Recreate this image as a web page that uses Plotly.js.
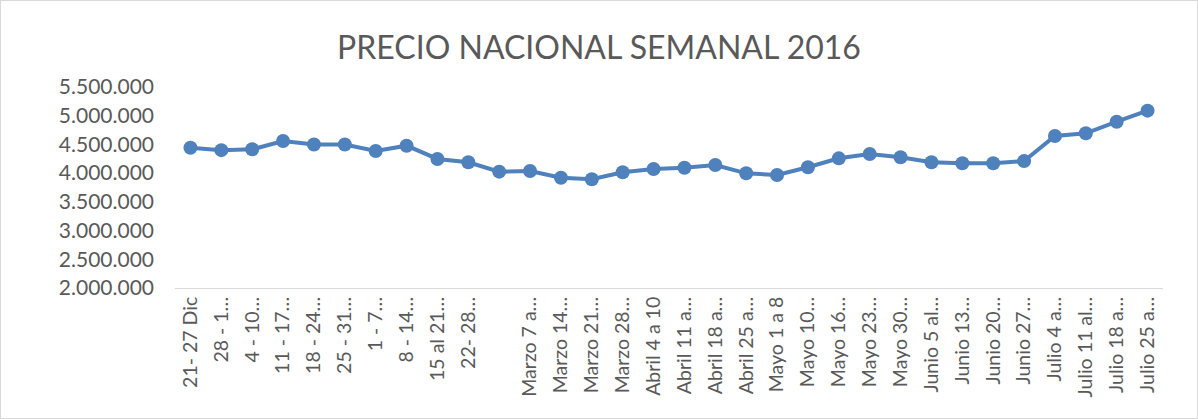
<!DOCTYPE html>
<html><head><meta charset="utf-8">
<script src="https://cdn.plot.ly/plotly-3.0.1.min.js"></script>
<style>html,body{margin:0;padding:0;background:#fff}#chart{width:1196px;height:417px;border:1px solid #d9d9d9}</style>
</head><body><div id="chart"></div>
<script>
const weeks = ["21- 27 Dic", "28 - 1…", "4 - 10…", "11 - 17…", "18 - 24…", "25 - 31…", "1 - 7…", "8 - 14…", "15 al 21…", "22- 28…", " ", "Marzo 7 a…", "Marzo 14…", "Marzo 21…", "Marzo 28…", "Abril 4 a 10", "Abril 11 a…", "Abril 18 a…", "Abril 25 a…", "Mayo 1 a 8", "Mayo 10…", "Mayo 16…", "Mayo 23…", "Mayo 30…", "Junio 5 al…", "Junio 13…", "Junio 20…", "Junio 27…", "Julio 4 a…", "Julio 11 al…", "Julio 18 a…", "Julio 25 a…"];
const prices = [4443000, 4400000, 4415000, 4560000, 4500000, 4500000, 4385000, 4478000, 4247000, 4190000, 4026000, 4038000, 3920000, 3893000, 4015000, 4072000, 4095000, 4142000, 3997000, 3968000, 4102000, 4258000, 4333000, 4276000, 4189000, 4171000, 4171000, 4210000, 4647000, 4694000, 4896000, 5088000];
const yTicks = [2000000, 2500000, 3000000, 3500000, 4000000, 4500000, 5000000, 5500000];
const titleText = "PRECIO NACIONAL SEMANAL 2016";

const font = "Lato, 'Open Sans', sans-serif";
Plotly.newPlot("chart", [{
  type: "scatter", mode: "lines+markers",
  x: weeks, y: prices,
  line: {color: "#4f81bd", width: 4},
  marker: {color: "#4f81bd", size: 14},
  hoverinfo: "skip"
}], {
  width: 1196, height: 417,
  margin: {l: 174, r: 34, t: 86, b: 130},
  paper_bgcolor: "#fff", plot_bgcolor: "#fff",
  separators: ",.",
  showlegend: false,
  title: {text: titleText, x: 0.5, xref: "container", xanchor: "center", y: 0.888, yref: "container", yanchor: "middle",
          font: {family: font, size: 32, color: "#595959"}},
  xaxis: {type: "category", range: [-0.5, weeks.length - 0.5], tickangle: -90,
          showgrid: false, zeroline: false, showline: true, linecolor: "#d9d9d9", linewidth: 1,
          ticks: "", ticklen: 0, tickfont: {family: font, size: 19.5, color: "#595959"}, automargin: false},
  yaxis: {range: [2000000, 5500000], tickvals: yTicks, tickformat: ",.0f", ticklabelstandoff: 20,
          showgrid: false, zeroline: false, showline: false, ticks: "",
          tickfont: {family: font, size: 21, color: "#595959"}, automargin: false}
}, {displayModeBar: false, staticPlot: true});
</script></body></html>
